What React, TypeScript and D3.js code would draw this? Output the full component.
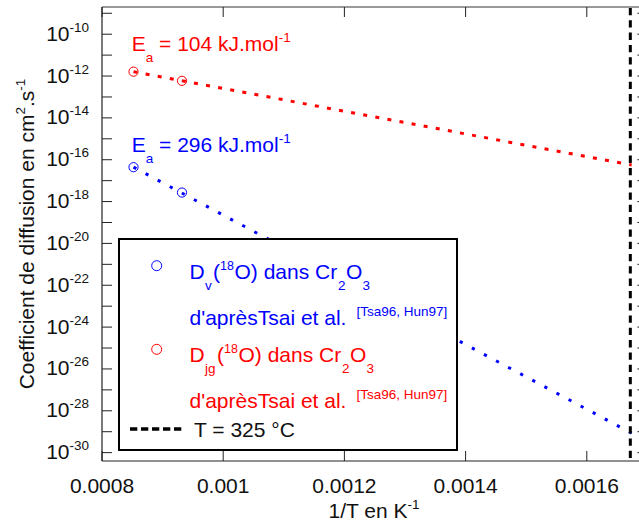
import React from "react";
import * as d3 from "d3";

// ---- data ----
const xTickValues = [0.0008, 0.001, 0.0012, 0.0014, 0.0016];
const xTickLabels = ["0.0008", "0.001", "0.0012", "0.0014", "0.0016"];
const yLabelExponents = [-30, -28, -26, -24, -22, -20, -18, -16, -14, -12, -10];
const yAllExponents = [-30, -29, -28, -27, -26, -25, -24, -23, -22, -21, -20, -19, -18, -17, -16, -15, -14, -13, -12, -11, -10, -9];

// Tsai et al. measured points (1/T in K^-1, D in cm2/s)
const pointsInvT = [0.000852, 0.000932];
const dvValues = [4.4e-17, 2.7e-18];
const djgValues = [1.62e-12, 5.9e-13];

// Arrhenius fit lines extrapolated to 325 °C
const fitInvT = [0.000852, 0.001674];
const dvFit = [4.4e-17, 8.5e-30];
const djgFit = [1.62e-12, 5.56e-17];

const tempLineInvT = 1 / 598.15; // T = 325 °C

const W = 639;
const H = 526;
const FONT = "'Liberation Sans', Arial, Helvetica, sans-serif";
const BLUE = "#0000ff";
const RED = "#ff0000";
const F = 21;
const S = 13.5;

function LegendFormula({ x0, y0, sub, shift, color }: { x0: number; y0: number; sub: string; shift: number; color: string }) {
  return (
    <text y={y0} fontSize={F} fill={color}>
      <tspan x={x0}>D</tspan>
      <tspan x={x0 + 15.5} dy={11} fontSize={S}>{sub}</tspan>
      <tspan x={x0 + 23.5 + shift} dy={-11}>(</tspan>
      <tspan x={x0 + 30.5 + shift} dy={-8.5} fontSize={12.5}>18</tspan>
      <tspan x={x0 + 45 + shift} dy={8.5}>O) dans Cr</tspan>
      <tspan x={x0 + 148.5 + shift} dy={11} fontSize={S}>2</tspan>
      <tspan x={x0 + 156.5 + shift} dy={-11}>O</tspan>
      <tspan x={x0 + 173 + shift} dy={11} fontSize={S}>3</tspan>
    </text>
  );
}

export default function App() {
  const x = d3.scaleLinear().domain([0.0008, 0.0017]).range([102, 647.4]);
  const y = d3.scaleLog().domain([Math.pow(10, -30.4), Math.pow(10, -8.7)]).range([461, 7]);
  const top = 7;
  const bottom = 461;
  const left = 102;
  const right = 647.4;

  const line = d3
    .line<[number, number]>()
    .x((d) => x(d[0]))
    .y((d) => y(d[1]));

  const redPath = line(fitInvT.map((t, i) => [t, djgFit[i]] as [number, number])) || "";
  const bluePath = line(fitInvT.map((t, i) => [t, dvFit[i]] as [number, number])) || "";

  return (
    <div style={{ position: "absolute", left: 0, top: 0 }}>
      <svg width={W} height={H} style={{ display: "block", fontFamily: FONT }}>
        <rect x={0} y={0} width={W} height={H} fill="#fff" />

        {/* frame */}
        <line x1={left} x2={right} y1={top} y2={top} stroke="#777" strokeWidth={1.5} />
        <line x1={left} x2={right} y1={bottom} y2={bottom} stroke="#222" strokeWidth={1.2} />
        <line x1={left} x2={left} y1={top} y2={bottom} stroke="#222" strokeWidth={1.2} />
        <line x1={right} x2={right} y1={top} y2={bottom} stroke="#222" strokeWidth={1.2} />

        {/* x ticks */}
        {xTickValues.map((v, i) => (
          <g key={"xt" + i}>
            <line x1={x(v)} x2={x(v)} y1={bottom} y2={bottom - 10} stroke="#222" strokeWidth={1} />
            <line x1={x(v)} x2={x(v)} y1={top} y2={top + 10} stroke="#222" strokeWidth={1} />
            <text x={x(v)} y={492.5} textAnchor="middle" fontSize={F} fill="#111">
              {xTickLabels[i]}
            </text>
          </g>
        ))}

        {/* y ticks */}
        {yAllExponents.map((e) => (
          <g key={"yt" + e}>
            <line x1={left} x2={left + 10} y1={y(Math.pow(10, e))} y2={y(Math.pow(10, e))} stroke="#222" strokeWidth={1} />
            <line x1={right} x2={right - 10} y1={y(Math.pow(10, e))} y2={y(Math.pow(10, e))} stroke="#222" strokeWidth={1} />
          </g>
        ))}
        {yLabelExponents.map((e) => (
          <text key={"yl" + e} x={89} y={y(Math.pow(10, e)) + 6.5} textAnchor="end" fontSize={F} fill="#111">
            10
            <tspan dy={-9} fontSize={S}>
              {String(e)}
            </tspan>
          </text>
        ))}

        {/* axis titles */}
        <text x={374} y={518} textAnchor="middle" fontSize={F} fill="#111">
          1/T en K<tspan dy={-9} fontSize={S}>-1</tspan>
        </text>
        <text transform={`translate(33.5,234) rotate(-90)`} textAnchor="middle" fontSize={F} fill="#111">
          Coefficient de diffusion en cm<tspan dy={-9} fontSize={S}>2</tspan>
          <tspan dy={9}>.s</tspan>
          <tspan dy={-9} fontSize={S}>-1</tspan>
        </text>

        {/* fit lines */}
        <path d={redPath} fill="none" stroke={RED} strokeWidth={3} strokeDasharray="4 8.3" />
        <path d={bluePath} fill="none" stroke={BLUE} strokeWidth={3} strokeDasharray="3.2 10.5" />

        {/* data points */}
        {pointsInvT.map((t, i) => (
          <circle key={"r" + i} cx={x(t)} cy={y(djgValues[i])} r={4.6} fill="none" stroke={RED} strokeWidth={1} />
        ))}
        {pointsInvT.map((t, i) => (
          <circle key={"b" + i} cx={x(t)} cy={y(dvValues[i])} r={4.6} fill="none" stroke={BLUE} strokeWidth={1} />
        ))}

        {/* activation energy labels */}
        <text x={131.7} y={50.7} fontSize={F} fill={RED}>
          E<tspan dy={11} fontSize={S}>a</tspan>
          <tspan dy={-11}> = 104 kJ.mol</tspan>
          <tspan dy={-9} fontSize={S}>-1</tspan>
        </text>
        <text x={131.7} y={151.7} fontSize={F} fill={BLUE}>
          E<tspan dy={11} fontSize={S}>a</tspan>
          <tspan dy={-11}> = 296 kJ.mol</tspan>
          <tspan dy={-9} fontSize={S}>-1</tspan>
        </text>

        {/* T = 325 °C line */}
        <line
          x1={x(tempLineInvT)}
          x2={x(tempLineInvT)}
          y1={top + 1}
          y2={bottom + 2}
          stroke="#000"
          strokeWidth={3}
          strokeDasharray="7.3 5"
        />

        {/* legend */}
        <rect x={119} y={239} width={338} height={211} fill="#fff" stroke="#000" strokeWidth={2} />
        <circle cx={156.7} cy={265.7} r={5} fill="none" stroke={BLUE} strokeWidth={1} />
        <LegendFormula x0={189.5} y0={278.5} sub="v" shift={0} color={BLUE} />
        <text y={325} fontSize={F} fill={BLUE}>
          <tspan x={189.5}>d'aprèsTsai et al.</tspan>
          <tspan x={356.5} dy={-9.5} fontSize={S}>[Tsa96, Hun97]</tspan>
        </text>
        <circle cx={156.7} cy={349.3} r={5} fill="none" stroke={RED} strokeWidth={1} />
        <LegendFormula x0={189.5} y0={361.7} sub="jg" shift={4} color={RED} />
        <text y={408.3} fontSize={F} fill={RED}>
          <tspan x={189.5}>d'aprèsTsai et al.</tspan>
          <tspan x={356.5} dy={-9.5} fontSize={S}>[Tsa96, Hun97]</tspan>
        </text>
        <line x1={130} x2={185} y1={429} y2={429} stroke="#000" strokeWidth={3.5} strokeDasharray="7.3 3.7" />
        <text x={194} y={436.7} fontSize={F} fill="#111">
          T = 325 °C
        </text>
      </svg>
    </div>
  );
}
